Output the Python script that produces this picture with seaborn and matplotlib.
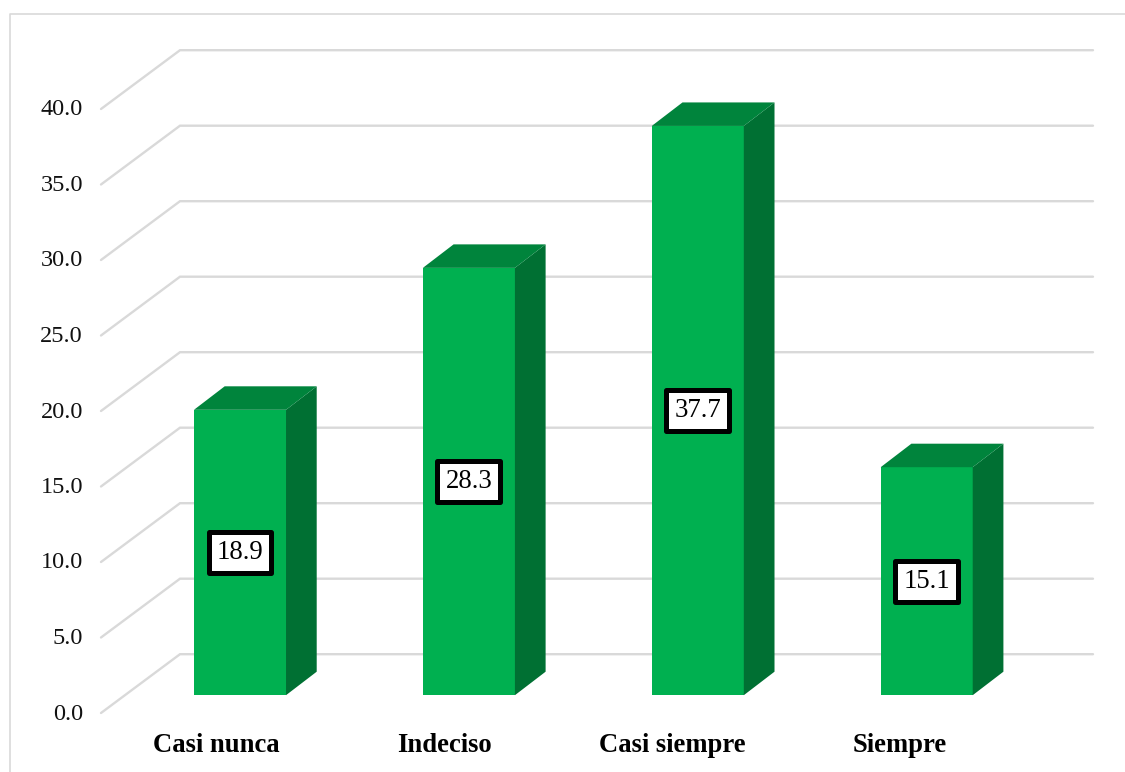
import matplotlib
matplotlib.use('Agg')
import matplotlib.pyplot as plt
from matplotlib.lines import Line2D
import matplotlib.transforms as mtransforms
import numpy as np
import seaborn as sns

categorias = ['Casi nunca', 'Indeciso', 'Casi siempre', 'Siempre']
valores = [18.9, 28.3, 37.7, 15.1]
ticks = [0, 5, 10, 15, 20, 25, 30, 35, 40]
tick_labels = ['0.0', '5.0', '10.0', '15.0', '20.0', '25.0', '30.0', '35.0', '40.0']

sns.set_style('white')
plt.rcParams['font.family'] = ['Liberation Serif', 'DejaVu Serif']

W, H = 1125, 772
fig = plt.figure(figsize=(W / 100, H / 100), dpi=100)
# axes box in pixels: 101..1093 across, 48..713 down
ax = fig.add_axes([101 / W, 1 - 713 / H, (1093 - 101) / W, (713 - 48) / H])

sns.barplot(x=categorias, y=valores, color='#00B050', saturation=1, width=0.402,
            linewidth=0, zorder=3, ax=ax)

px_x = 228.9    # pixels per category
px_y = 15.1     # pixels per unit
base = 695.2    # pixel row of value 0 on the bars
x0, x1 = (101 - 240) / px_x, (1093 - 240) / px_x
y0, y1 = (base - 713) / px_y, (base - 48) / px_y
ax.set_xlim(x0, x1)
ax.set_ylim(y0, y1)

# fake 3d: back wall and floor
wall_x = (180 - 240) / px_x
wall_y = (base - 654.2) / px_y
for t in ticks:
    ax.plot([x0, wall_x, x1], [t + y0, t + wall_y, t + wall_y], color='#D9D9D9',
            lw=1.7, zorder=1, clip_on=False, solid_joinstyle='miter')

# side and top faces of the bars
dx = 30.7 / px_x
dy = 23.5 / px_y
for bar in ax.patches[:len(valores)]:
    l, r = bar.get_x(), bar.get_x() + bar.get_width()
    h = bar.get_height()
    ax.fill([r, r + dx, r + dx, r], [0, dy, h + dy, h], color='#007033', lw=0, zorder=3)
    ax.fill([l, l + dx, r + dx, r], [h, h + dy, h + dy, h], color='#00843C', lw=0, zorder=3)

for i, v in enumerate(valores):
    ax.text(i, v / 2, f'{v:.1f}', ha='center', va='center', fontsize=19.3, color='black',
            zorder=5, bbox=dict(boxstyle='square,pad=0.3', fc='white', ec='black',
                                lw=3.6, joinstyle='round'))

ax.set_yticks(np.array(ticks) + y0)
ax.set_yticklabels(tick_labels, fontsize=17.5, color='#111111')
ax.set_xticks((np.arange(len(categorias)) * 228 - 24) / px_x)
ax.set_xticklabels(categorias, fontsize=19.2, fontweight='bold', color='black')
ax.tick_params(axis='y', length=0, pad=13)
ax.tick_params(axis='x', length=0, pad=14.5)
# y labels sit one pixel higher than their floor line
shift = mtransforms.ScaledTranslation(0, 1.5 / 100, fig.dpi_scale_trans)
for lab in ax.get_yticklabels():
    lab.set_transform(lab.get_transform() + shift)
ax.set_xlabel('')
ax.set_ylabel('')
sns.despine(ax=ax, left=True, bottom=True)
ax.patch.set_alpha(0)

# chart frame, cut by the image at the bottom and right
fig.add_artist(Line2D([10 / W, 10 / W, 1], [0, 1 - 13.5 / H, 1 - 13.5 / H],
                      color='#D9D9D9', lw=1.2))

fig.savefig('out.png', dpi=100)
